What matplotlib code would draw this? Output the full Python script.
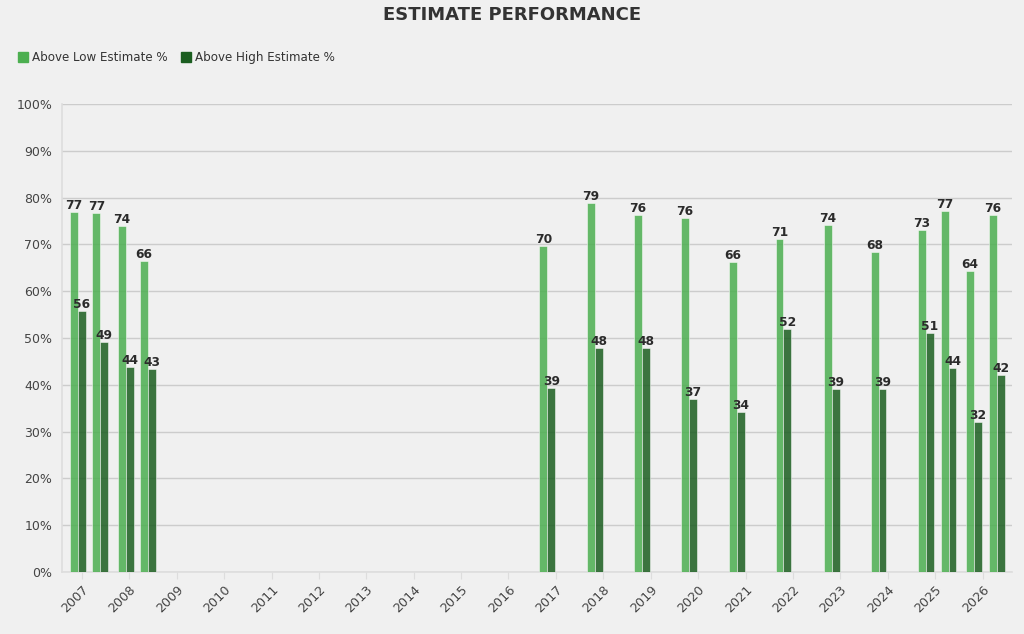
import pandas as pd
import matplotlib.pyplot as plt
import matplotlib.dates as mdates
from matplotlib.patches import Patch
from matplotlib.ticker import FuncFormatter

plt.rcParams["font.family"] = "DejaVu Sans"

# auction dates and sell-through above estimates
sale_dates = [
    "2006-12-01", "2007-05-22", "2007-12-05", "2008-05-22",
    "2016-10-27", "2017-10-27", "2018-10-23", "2019-10-23",
    "2020-10-27", "2021-10-20", "2022-10-27", "2023-10-23",
    "2024-10-23", "2025-04-14", "2025-10-27", "2026-04-20",
]
above_low = [
    76.9, 76.6, 74.0, 66.4,
    69.6, 78.9, 76.2, 75.6,
    66.2, 71.2, 74.1, 68.3,
    73.0, 77.1, 64.2, 76.2,
]
above_high = [
    55.7, 49.1, 43.8, 43.4,
    39.3, 47.9, 47.9, 36.9,
    34.1, 52.0, 39.0, 39.1,
    51.1, 43.6, 32.1, 42.1,
]
year_ticks = list(range(2007, 2027))

LOW_C = "#4caf50"
HIGH_C = "#1b5e20"
BG = "#f0f0f0"
TXT = "#333333"

dates = pd.to_datetime(sale_dates)
width = pd.Timedelta(days=61)

fig = plt.figure(figsize=(10.24, 6.34), dpi=100, facecolor=BG)
ax = fig.add_axes([0.0605, 0.098, 0.9275, 0.738], facecolor=BG)

b1 = ax.bar(dates - width, above_low, width=width, align="edge",
            color=LOW_C, alpha=0.85, edgecolor="white", linewidth=0.4, zorder=3)
b2 = ax.bar(dates, above_high, width=width, align="edge",
            color=HIGH_C, alpha=0.85, edgecolor="white", linewidth=0.4, zorder=3)

for bars in (b1, b2):
    for r in bars:
        ax.annotate(f"{r.get_height():.0f}",
                    (r.get_x() + r.get_width() / 2, r.get_height()),
                    xytext=(0, 0), textcoords="offset points",
                    ha="center", va="bottom", fontsize=8.8,
                    fontweight="bold", color="#2b2b2b", zorder=4)

ax.set_ylim(0, 100)
ax.set_yticks(range(0, 101, 10))
ax.yaxis.set_major_formatter(FuncFormatter(lambda v, p: f"{v:.0f}%"))
ax.set_xlim(pd.Timestamp("2006-07-31"), pd.Timestamp("2026-08-14"))
ax.set_xticks([pd.Timestamp(f"{y}-01-01") for y in year_ticks])
ax.xaxis.set_major_formatter(mdates.DateFormatter("%Y"))
plt.setp(ax.get_xticklabels(), rotation=45, ha="right", rotation_mode="anchor")

ax.tick_params(axis="y", length=0, labelsize=9, colors="#444444", pad=7)
ax.tick_params(axis="x", length=5, color="#dddddd", labelsize=9.2,
               labelcolor="#444444", pad=3)
ax.grid(axis="y", color="#cccccc", linewidth=1, zorder=0)
for s in ("top", "right"):
    ax.spines[s].set_visible(False)
for s in ("left", "bottom"):
    ax.spines[s].set_color("#dddddd")
    ax.spines[s].set_linewidth(1.2)

fig.text(0.5, 0.976, "ESTIMATE PERFORMANCE", ha="center", va="center",
         fontsize=13, fontweight="bold", color=TXT)
handles = [Patch(color=LOW_C, label="Above Low Estimate %"),
           Patch(color=HIGH_C, label="Above High Estimate %")]
fig.legend(handles=handles, loc="center left", bbox_to_anchor=(0.007, 0.909),
           ncol=2, frameon=False, fontsize=8.6, handlelength=0.85,
           handleheight=0.85, handletextpad=0.35, columnspacing=1.1,
           labelcolor=TXT)

fig.savefig("out.png", dpi=100, facecolor=BG)
